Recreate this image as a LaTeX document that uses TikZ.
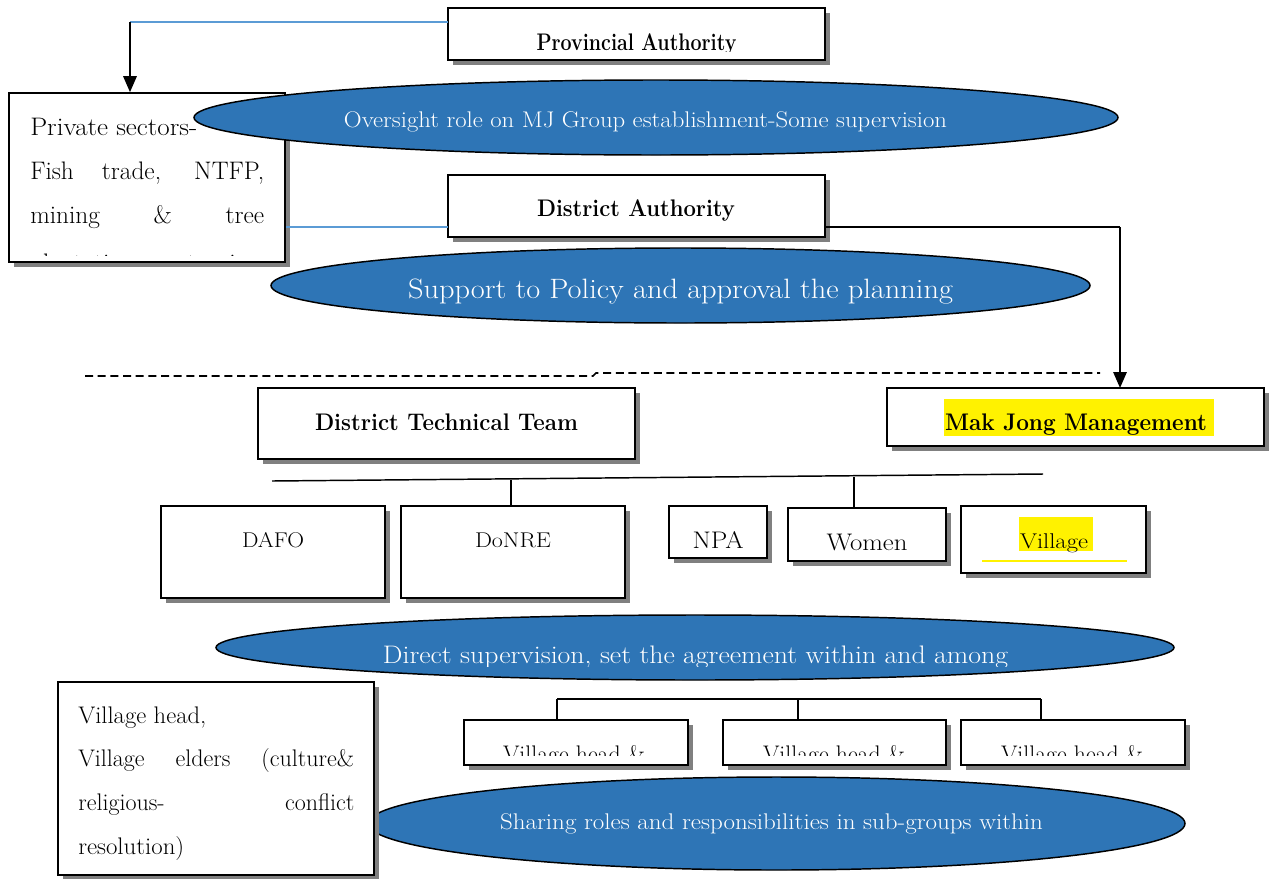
\documentclass[tikz,border=0pt]{standalone}
\usetikzlibrary{shapes.geometric,shadows,arrows.meta}
\definecolor{ellblue}{HTML}{2E75B6}
\definecolor{lnblue}{HTML}{5B9BD5}
\definecolor{shd}{HTML}{808080}
\newcommand\fs[1]{\fontsize{#1}{#1}\selectfont}
\newcommand\hfit[2]{\resizebox{#1\dimexpr0.75pt\relax}{\height}{#2}}
\tikzset{
  wh/.style 2 args={minimum width=#1*0.75pt, minimum height=#2*0.75pt},
  boxnode/.style={draw=black, line width=1.2pt, fill=white, rectangle, inner sep=0pt,
     drop shadow={shadow xshift=4pt, shadow yshift=-4pt, fill=shd, opacity=1}},
  ellnode/.style={ellipse, draw=black, line width=1.1pt, fill=ellblue, inner sep=0pt},
  txt/.style={inner sep=0pt, anchor=base},
  wtxt/.style={txt, text=white},
  bline/.style={lnblue, line width=0.8pt},
  kline/.style={black, line width=1.1pt},
  arr/.style={black, line width=1.5pt, -{Triangle[length=12pt,width=10pt]}},
}
\begin{document}
\begin{tikzpicture}[x=0.75pt,y=-0.75pt]
\useasboundingbox (0,0) rectangle (1269,878);
\fill[white] (0,0) rectangle (1269,878);

% ---------- top level ----------
\node[boxnode, wh={377}{52}] (prov) at (636.5,34) {};
\begin{scope}
  \clip (448,8) rectangle (825,51);
  \node[txt] (provt) at (636.5,50) {\fs{18}\bfseries\hfit{200}{Provincial Authority}};
\end{scope}

\node[ellnode, wh={819}{75}] (e2) at (680.5,285.5) {};
\node[wtxt] (e2t) at (680.5,298) {\fs{21}\hfit{545}{Support to Policy and approval the planning}};

\node[boxnode, wh={276}{169}] (priv) at (147,177.5) {};
\node[txt, anchor=base west] (pv1) at (30,135) {\fs{19}\hfit{167}{Private sectors-}};
\node[txt, anchor=base west] (pv2) at (30,179) {\fs{19}\makebox[175.5pt][s]{Fish trade, NTFP,}};
\node[txt, anchor=base west] (pv3) at (30,223) {\fs{19}\makebox[175.5pt][s]{mining \& tree}};
\begin{scope}
  \clip (12,240) rectangle (282,255);
  \node[txt, anchor=base west] (pv4) at (30,271) {\fs{19}\makebox[175.5pt][s]{plantation, tourism}};
\end{scope}

\node[ellnode, wh={924}{75}] (e1) at (656,117.5) {};
\node[wtxt] (e1t) at (645.5,127) {\fs{17}\hfit{603}{Oversight role on MJ Group establishment-Some supervision}};

\node[boxnode, wh={377}{62}] (da) at (636.5,206) {};
\node[txt] (dat) at (636,216) {\fs{18}\bfseries\hfit{198}{District Authority}};

% connectors top
\coordinate (pa) at (448,22);
\coordinate (c1) at (130,22);
\draw[bline] (pa) -- (c1);
\draw[arr] (c1) -- (priv.north -| c1);
\coordinate (dl) at (448,227);
\draw[bline] (dl) -- (priv.east |- dl);
\coordinate (dr) at (825,227);
\coordinate (c2) at (1120,227);
\draw[kline, line width=1.3pt] (dr) -- (c2);
\draw[arr] (c2) -- (1120,388);

% dashed separator
\coordinate (d1) at (85,376);
\coordinate (d2) at (593,376);
\coordinate (d3) at (596,373);
\coordinate (d4) at (1100,373);
\draw[black, line width=1.2pt, dash pattern=on 6pt off 3.5pt] (d1) -- (d2) -- (d3) -- (d4);

% ---------- district level ----------
\node[boxnode, wh={377}{71}] (dtt) at (446.5,423.5) {};
\node[txt] (dttt) at (446.5,430) {\fs{18}\bfseries\hfit{263}{District Technical Team}};

\node[boxnode, wh={377}{58}] (mjm) at (1075.5,417) {};
\node[fill=yellow, inner sep=0pt, wh={270}{37}] (hl1) at (1079,417.5) {};
\node[txt] (mjmt) at (1076,430) {\fs{18}\bfseries\hfit{262}{Mak Jong Management}};

\coordinate (b1) at (272,481);
\coordinate (b2) at (1043,474);
\draw[kline] (b1) -- (b2);

\node[boxnode, wh={224}{92}] (dafo) at (273,552) {};
\node[txt] (dafot) at (273,547) {\fs{16}\hfit{62}{DAFO}};
\node[boxnode, wh={224}{92}] (donre) at (513,552) {};
\node[txt] (donret) at (513,547) {\fs{16}\hfit{76}{DoNRE}};
\node[boxnode, wh={98}{52}] (npa) at (718,532) {};
\node[txt] (npat) at (718,548) {\fs{18}\hfit{51}{NPA}};
\node[boxnode, wh={158}{53}] (women) at (867,534.5) {};
\node[txt] (woment) at (867,550) {\fs{18}\hfit{81}{Women}};
\node[boxnode, wh={185}{67}] (vil) at (1053.5,539.5) {};
\node[fill=yellow, inner sep=0pt, wh={74}{34}] (hl2) at (1056,534) {};
\node[txt] (vilt) at (1054,548) {\fs{16}\hfit{68}{Village}};
\coordinate (u1) at (982,561);
\coordinate (u2) at (1127,561);
\draw[yellow, line width=2.2pt] (u1) -- (u2);

\coordinate (t1) at (511,480);
\coordinate (t2) at (854,477);
\draw[kline] (t1) -- (donre.north -| t1);
\draw[kline] (t2) -- (women.north -| t2);

% ---------- village level ----------
\node[ellnode, wh={958}{65}] (e3) at (695,647.5) {};
\begin{scope}
  \clip (216,615) rectangle (1174,666);
  \node[wtxt] (e3t) at (695.5,663) {\fs{19}\hfit{625}{Direct supervision, set the agreement within and among}};
\end{scope}

\node[ellnode, wh={817}{93}] (e4) at (776.5,823.5) {};
\node[wtxt] (e4t) at (771.5,829) {\fs{17}\hfit{543}{Sharing roles and responsibilities in sub-groups within}};

\node[boxnode, wh={316}{193}] (vh) at (216,778.5) {};
\node[txt, anchor=base west] (vh1) at (78,723) {\fs{18}\hfit{128}{Village head,}};
\node[txt, anchor=base west] (vh2) at (78,766) {\fs{18}\makebox[207pt][s]{Village elders (culture\&}};
\node[txt, anchor=base west] (vh3) at (78,810) {\fs{18}\makebox[207pt][s]{religious- conflict}};
\node[txt, anchor=base west] (vh4) at (78,854) {\fs{18}\hfit{106}{resolution)}};

\coordinate (g1) at (557,699);
\coordinate (g2) at (798,699);
\coordinate (g3) at (1041,699);
\node[boxnode, wh={224}{45}] (v1) at (576,742.5) {};
\node[boxnode, wh={223}{45}] (v2) at (834.5,742.5) {};
\node[boxnode, wh={224}{45}] (v3) at (1073,742.5) {};
\draw[kline] (g1) -- (g3);
\draw[kline] (g1) -- (v1.north -| g1);
\draw[kline] (g2) -- (v2.north -| g2);
\draw[kline] (g3) -- (v3.north -| g3);
\begin{scope}
  \clip (464,720) rectangle (1185,755);
  \node[txt] (v1t) at (574,762) {\fs{18}\hfit{142}{Village head \&}};
  \node[txt] (v2t) at (834,762) {\fs{18}\hfit{142}{Village head \&}};
  \node[txt] (v3t) at (1072,762) {\fs{18}\hfit{142}{Village head \&}};
\end{scope}
\end{tikzpicture}
\end{document}
